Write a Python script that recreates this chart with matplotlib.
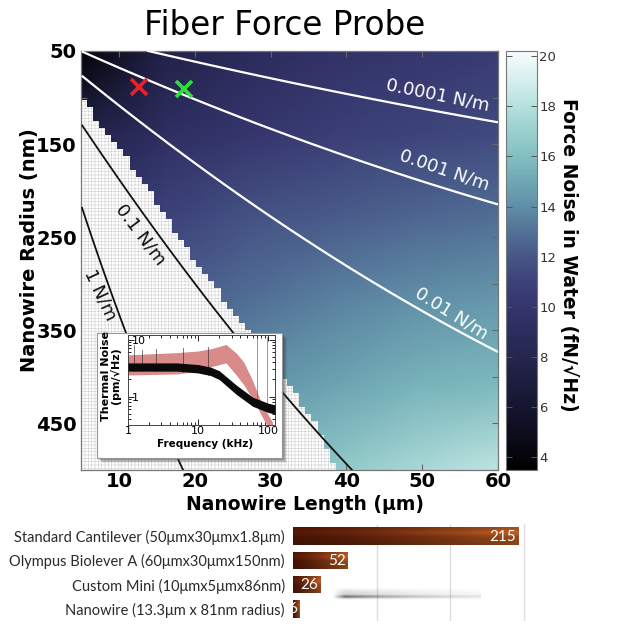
import numpy as np
import matplotlib
matplotlib.use("Agg")
import matplotlib.pyplot as plt
from matplotlib.colors import LinearSegmentedColormap, to_rgb
from matplotlib.patches import Polygon, Rectangle
from matplotlib.ticker import NullFormatter

plt.rcParams['font.family'] = ['DejaVu Sans']
plt.rcParams['hatch.linewidth'] = 0.4

# ---------------- data ----------------
# force-noise field (fN/sqrt(Hz)) at grid nodes
grid_length = [5, 16, 27, 38, 49, 60]          # um
grid_radius = [50, 140, 230, 320, 410, 500]    # nm
noise_r50 = [4.0, 7.6, 8.8, 9.6, 10.1, 10.5]
noise_r140 = [7.5, 9.3, 10.0, 10.7, 11.1, 11.4]
noise_r230 = [9.0, 11.0, 11.8, 12.2, 12.6, 12.9]
noise_r320 = [11.0, 12.2, 12.9, 13.6, 14.1, 14.4]
noise_r410 = [12.5, 13.5, 14.2, 14.8, 15.5, 15.8]
noise_r500 = [14.0, 15.0, 15.8, 16.5, 17.5, 18.3]
cbar_range = [3.5, 20.2]
cbar_ticks = [4, 6, 8, 10, 12, 14, 16, 18, 20]

# edge of the excluded (hatched) region
boundary_length = [5, 12.1, 20.7, 26.9, 32.2, 36.1, 38.2, 38.5]
boundary_radius = [100, 178, 283, 350, 407, 450, 492, 500]

# spring-constant iso-lines
k_labels = ['0.0001 N/m', '0.001 N/m', '0.01 N/m', '0.1 N/m', '1 N/m']
k1_length = [13.7, 24.7, 36.5, 42.7, 60.0]
k1_radius = [50, 69.3, 89.7, 101.5, 126.3]
k2_length = [5.1, 12.8, 22.7, 33.9, 47.1, 60.0]
k2_radius = [50, 77.9, 111.2, 145.6, 181.0, 215.4]
k3_length = [5.1, 16.3, 25.1, 33.9, 38.2, 47.1, 60.0]
k3_radius = [76.9, 145.6, 202.5, 249.8, 272.4, 312.2, 374.4]
k4_length = [5.1, 8.8, 17.4, 24.9, 31.6, 40.8]
k4_radius = [127.3, 177.8, 267.0, 352.9, 417.3, 500]
k5_length = [5.1, 10.8, 17.7, 18.5]
k5_radius = [217.6, 349.7, 487.2, 500]
k_label_length = [52.0, 53.0, 53.9, 12.8, 7.5]
k_label_radius = [97.3, 177.8, 331.4, 247.6, 312.0]
k_label_angle = [-11.6, -19, -32, -53, -65]

# probe markers
marker_length = [12.6, 18.6]
marker_radius = [89, 91]

# inset: thermal noise spectra
red_freq = [1, 5, 10, 16, 25, 35, 45, 60, 75, 90, 115]
red_upper = [5.4, 5.9, 6.3, 7.0, 8.2, 5.8, 4.0, 1.9, 0.95, 0.6, 0.36]
red_lower = [2.4, 2.5, 2.8, 3.4, 3.9, 2.4, 1.6, 0.9, 0.55, 0.36, 0.24]
black_freq = [1, 5, 10, 15, 20, 35, 60, 100, 125]
black_upper = [3.9, 3.9, 3.65, 3.3, 2.85, 1.6, 0.98, 0.77, 0.72]
black_lower = [2.8, 2.8, 2.6, 2.35, 2.0, 1.1, 0.68, 0.53, 0.5]
spike_freq = [1.2, 1.6, 2.5, 6, 14, 70, 95]
spike_top = [8, 6.5, 6.8, 7.2, 7.5, 10.5, 11]
spike_base = [2.8, 2.8, 2.8, 2.7, 2.4, 0.7, 0.6]

# bottom bar chart
bar_labels = ['Standard Cantilever (50μmx30μmx1.8μm)',
              'Olympus Biolever A (60μmx30μmx150nm)',
              'Custom Mini (10μmx5μmx86nm)',
              'Nanowire (13.3μm x 81nm radius)']
bar_values = [215, 52, 26, 6]
bar_grid = [80, 150, 220]

# ---------------- figure ----------------
W, H = 626, 624
fig = plt.figure(figsize=(W / 100, H / 100), dpi=100)


def fx(px):
    return px / W


def fy(py):
    return 1 - py / H


cmap_pos = [3.5, 5, 6, 8, 10, 11, 12, 13, 14, 15, 16, 17, 18, 19, 20.2]
cmap_col = ['#000000', '#0d0d1e', '#151530', '#25254f', '#34356c', '#3c4279',
            '#475587', '#527196', '#5f8ea7', '#6ea7b3', '#82bfc1', '#99d0cd',
            '#b4e0dc', '#d4eeec', '#f8fcfc']
vmin, vmax = cbar_range
cmap = LinearSegmentedColormap.from_list(
    'fn', [((p - vmin) / (vmax - vmin), c) for p, c in zip(cmap_pos, cmap_col)])

AX_L, AX_R, AX_T, AX_B = 81, 498, 51, 470
ax = fig.add_axes([fx(AX_L), fy(AX_B), fx(AX_R) - fx(AX_L), fy(AX_T) - fy(AX_B)])
Z = np.array([noise_r50, noise_r140, noise_r230, noise_r320, noise_r410, noise_r500])
mesh = ax.pcolormesh(grid_length, grid_radius, Z, shading='gouraud', cmap=cmap,
                     vmin=vmin, vmax=vmax, zorder=1)

# staircase hatched region
dL, dr = 0.8, 7.5
r_edges = np.arange(50, 500 + dr / 2, dr)
verts = [(5, 50)]
for top, bot in zip(r_edges[:-1], r_edges[1:]):
    rc = 0.5 * (top + bot)
    Lb = np.interp(rc, boundary_radius, boundary_length)
    n = max(0, int(np.ceil((Lb - 5) / dL - 0.5)))
    e = 5 + n * dL
    verts += [(e, top), (e, bot)]
verts.append((5, 500))
ax.add_patch(Polygon(verts, closed=True, facecolor='white', edgecolor='#cfcfcf',
                     hatch='+++++', linewidth=0, zorder=2))

lines = [(k1_length, k1_radius, 'white'), (k2_length, k2_radius, 'white'),
         (k3_length, k3_radius, 'white'), (k4_length, k4_radius, '#111111'),
         (k5_length, k5_radius, '#111111')]
for (Ls, Rs, c), lab, lx, ly, ang in zip(lines, k_labels, k_label_length,
                                         k_label_radius, k_label_angle):
    # smooth display curve through the read points
    coef = np.polyfit(Ls, Rs, 2)
    Ld = np.linspace(Ls[0], Ls[-1], 120)
    ax.plot(Ld, np.polyval(coef, Ld), color=c, lw=1.6 if c == 'white' else 1.3,
            zorder=3, solid_capstyle='butt')
    ax.text(lx, ly, lab, rotation=ang, rotation_mode='anchor', ha='center',
            va='center', color=c, fontsize=13, zorder=4)

ax.plot(marker_length[0], marker_radius[0], marker='x', color='#e8212b', ms=11,
        mew=2.6, zorder=5)
ax.plot(marker_length[1], marker_radius[1], marker='x', color='#2ee03a', ms=11,
        mew=2.6, zorder=5)

ax.set_xlim(5, 60)
ax.set_ylim(500, 50)
ax.set_xticks([10, 20, 30, 40, 50, 60])
yt = list(range(50, 501, 50))
ax.set_yticks(yt)
ax.set_yticklabels([str(v) if v % 100 == 50 and v < 500 else '' for v in yt])
ax.tick_params(direction='in', top=True, right=True, length=4, width=0.8,
               color='#666666', labelsize=14, pad=3)
ax.tick_params(axis='x', pad=1.5)
for lbl in ax.get_xticklabels() + ax.get_yticklabels():
    lbl.set_fontweight('bold')
for s in ax.spines.values():
    s.set_edgecolor('#777777')
    s.set_linewidth(0.9)
ax.set_xlabel('Nanowire Length (μm)', fontsize=13.5, fontweight='bold', va='center')
ax.xaxis.set_label_coords((305 - AX_L) / (AX_R - AX_L), (AX_B - 505) / (AX_B - AX_T))
ax.set_ylabel('Nanowire Radius (nm)', fontsize=14, fontweight='bold', va='center')
ax.yaxis.set_label_coords((30 - AX_L) / (AX_R - AX_L), (AX_B - 250) / (AX_B - AX_T))

# colorbar
CB_L, CB_R = 506, 537
cax = fig.add_axes([fx(CB_L), fy(AX_B), fx(CB_R) - fx(CB_L), fy(AX_T) - fy(AX_B)])
cb = fig.colorbar(mesh, cax=cax, ticks=cbar_ticks)
cb.outline.set_edgecolor('#777777')
cb.outline.set_linewidth(0.8)
cax.tick_params(direction='in', left=True, right=True, length=4, width=0.7,
                color='#555555', labelsize=9.5, labelcolor='#333333', pad=1.5)
cb.set_label('Force Noise in Water (fN/√Hz)', rotation=270, fontsize=13.5,
             fontweight='bold', va='center')
cax.yaxis.set_label_coords((569 - CB_L) / (CB_R - CB_L), (AX_B - 255) / (AX_B - AX_T))

# inset box with shadow
bx0, by0, bx1, by1 = 97, 333, 282, 458
for i, a in enumerate([0.10, 0.14, 0.18, 0.24]):
    off = 5 - i
    fig.add_artist(Rectangle((fx(bx0 + off), fy(by1 + off)),
                             fx(bx1 - bx0), fy(by0) - fy(by1),
                             transform=fig.transFigure, facecolor='#333333',
                             alpha=a, edgecolor='none', zorder=5))
fig.add_artist(Rectangle((fx(bx0), fy(by1)), fx(bx1 - bx0), fy(by0) - fy(by1),
                         transform=fig.transFigure, facecolor='white',
                         edgecolor='#999999', lw=0.8, zorder=5.5))

IN_L, IN_R, IN_T, IN_B = 128, 275, 335, 425
ain = fig.add_axes([fx(IN_L), fy(IN_B), fx(IN_R) - fx(IN_L), fy(IN_T) - fy(IN_B)],
                   zorder=6)
ain.set_xscale('log')
ain.set_yscale('log')
ain.fill_between(red_freq, red_lower, red_upper, color='#d98b89', lw=0, zorder=2)
ain.fill_between(black_freq, black_lower, black_upper, color='#0a0a0a', lw=0, zorder=3)
for f, t, b in zip(spike_freq, spike_top, spike_base):
    ain.plot([f, f], [b, t], color='#555555' if f > 50 else '#222222',
             lw=0.6, alpha=0.7, zorder=2.5)
ain.set_xlim(1, 125)
ain.set_ylim(0.32, 12)
ain.set_xticks([1, 10, 100])
ain.set_xticklabels(['1', '10', '100'])
ain.set_yticks([1, 10])
ain.set_yticklabels(['1', '10'])
ain.xaxis.set_minor_formatter(NullFormatter())
ain.yaxis.set_minor_formatter(NullFormatter())
ain.tick_params(which='both', direction='in', top=True, right=True, labelsize=8,
                width=0.6)
ain.tick_params(axis='x', pad=0.5)
ain.tick_params(axis='y', pad=-3)
for lbl in ain.get_yticklabels():
    lbl.set_horizontalalignment('left')
ain.tick_params(which='major', length=4)
ain.tick_params(which='minor', length=2)
for s in ain.spines.values():
    s.set_linewidth(0.7)
    s.set_edgecolor('#444444')
ain.set_xlabel('Frequency (kHz)', fontsize=7.5, fontweight='bold', va='center')
ain.xaxis.set_label_coords((205 - IN_L) / (IN_R - IN_L), (IN_B - 444) / (IN_B - IN_T))
ain.set_ylabel('Thermal Noise\n(pm/√Hz)', fontsize=8, fontweight='bold',
               linespacing=0.95, va='center')
ain.yaxis.set_label_coords((111 - IN_L) / (IN_R - IN_L), (IN_B - 376) / (IN_B - IN_T))

# bar chart
bax = fig.add_axes([fx(293), fy(621), fx(529) - fx(293), fy(524) - fy(621)])
bax.set_xlim(0, 225)
bax.set_ylim(3.5, -0.5)
bax.vlines(bar_grid, -0.5, 3.5, color='#dddddd', lw=1, zorder=0)

# shadow smear
sx = np.linspace(0, 1, 200)
sy = np.linspace(0, 1, 40)
ax_prof = np.clip(sx / 0.08, 0, 1) * np.exp(-sx * 1.8)
ay_prof = np.exp(-((sy - 0.62) / 0.12) ** 2) + 0.3 * np.exp(-((sy - 0.35) / 0.25) ** 2)
alpha = np.clip(np.outer(ay_prof, ax_prof) * 0.85, 0, 1)
smear = np.zeros((40, 200, 4))
smear[..., :3] = 0.3
smear[..., 3] = alpha
bax.imshow(smear, extent=(38, 179, 2.7, 2.15), aspect='auto', zorder=1,
           interpolation='bilinear')

dark = np.array(to_rgb('#4a1505'))
light = np.array(to_rgb('#a3501e'))
for i, v in enumerate(bar_values):
    bars = bax.barh(i, v, height=0.72, color='none', edgecolor='none', zorder=2)
    gx = np.linspace(0, 1, 64)
    gy = np.linspace(0, 1, 16)
    horiz = dark[None, :] + (light - dark)[None, :] * gx[:, None] ** 1.3
    vert = 1.0 + 0.22 * np.exp(-((gy - 0.3) / 0.18) ** 2) - 0.15 * gy
    img = np.clip(vert[:, None, None] * horiz[None, :, :], 0, 1)
    im = bax.imshow(img, extent=(0, v, i + 0.36, i - 0.36), aspect='auto',
                    zorder=2, interpolation='bilinear')
    im.set_clip_path(bars[0])
    bax.text(v - 2, i + 0.02, str(v), ha='right', va='center', color='white',
             fontsize=11, family=['Lato', 'DejaVu Sans'], zorder=3)
bax.set_xlim(0, 225)
bax.set_ylim(3.5, -0.5)
bax.set_yticks(range(len(bar_labels)))
bax.set_yticklabels(bar_labels, fontsize=10.5, family=['Lato', 'DejaVu Sans'],
                    color='#2a2a2a')
bax.set_xticks([])
bax.tick_params(axis='y', length=0, pad=6)
for s in bax.spines.values():
    s.set_visible(False)
bax.patch.set_alpha(0)

fig.text(fx(285), fy(35), 'Fiber Force Probe', ha='center', va='baseline',
         fontsize=23.5)

fig.savefig('out.png', dpi=100)
